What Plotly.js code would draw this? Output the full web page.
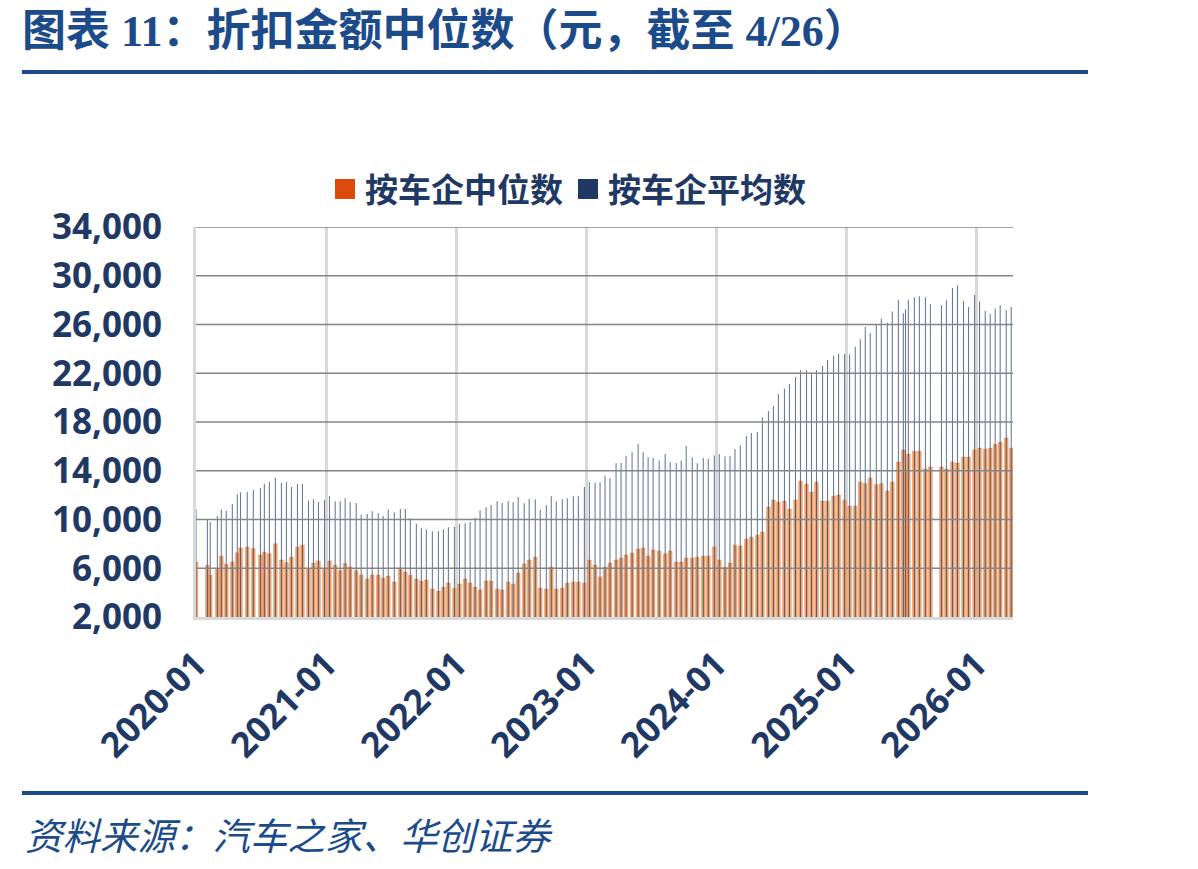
<!DOCTYPE html>
<html>
<head>
<meta charset="utf-8">
<script src="https://cdn.plot.ly/plotly-3.0.1.min.js"></script>
<style>
html,body{margin:0;padding:0;background:#fff;}
#chart{width:1198px;height:869px;}
</style>
</head>
<body>
<div id="chart"></div>
<script>
// ---- data ----
const dates = [
"2020-01-01","2020-02-02","2020-02-10","2020-03-01","2020-03-12","2020-03-26","2020-04-12","2020-04-26",
"2020-05-05","2020-05-24","2020-06-10","2020-06-30","2020-07-11","2020-07-25","2020-08-11","2020-08-28",
"2020-09-11","2020-09-25","2020-10-12","2020-10-26","2020-11-12","2020-11-26","2020-12-10","2020-12-27",
"2021-01-10","2021-01-26","2021-02-09","2021-02-23","2021-03-09","2021-03-26","2021-04-09","2021-04-26",
"2021-05-10","2021-05-27","2021-06-10","2021-06-24","2021-07-11","2021-07-28","2021-08-11","2021-08-25",
"2021-09-11","2021-09-25","2021-10-09","2021-10-26","2021-11-12","2021-11-26","2021-12-10","2021-12-27",
"2022-01-10","2022-01-26","2022-02-09","2022-02-23","2022-03-09","2022-03-26","2022-04-09","2022-04-26",
"2022-05-10","2022-05-27","2022-06-10","2022-06-24","2022-07-11","2022-07-25","2022-08-11","2022-08-25",
"2022-09-11","2022-09-25","2022-10-09","2022-10-26","2022-11-09","2022-11-26","2022-12-10","2022-12-27",
"2023-01-10","2023-01-26","2023-02-09","2023-02-23","2023-03-09","2023-03-26","2023-04-09","2023-04-23",
"2023-05-10","2023-05-27","2023-06-10","2023-06-24","2023-07-08","2023-07-25","2023-08-11","2023-08-25",
"2023-09-11","2023-09-25","2023-10-09","2023-10-26","2023-11-09","2023-11-26","2023-12-10","2023-12-27",
"2024-01-10","2024-01-26","2024-02-09","2024-02-23","2024-03-09","2024-03-26","2024-04-09","2024-04-26",
"2024-05-10","2024-05-27","2024-06-10","2024-06-24","2024-07-11","2024-07-25","2024-08-11","2024-08-25",
"2024-09-11","2024-09-25","2024-10-09","2024-10-26","2024-11-09","2024-11-26","2024-12-10","2024-12-27",
"2025-01-10","2025-01-26","2025-02-09","2025-02-23","2025-03-09","2025-03-26","2025-04-09","2025-04-26",
"2025-05-10","2025-05-27","2025-06-10","2025-06-16","2025-06-24","2025-07-11","2025-07-25","2025-08-11",
"2025-08-25","2025-09-25","2025-10-09","2025-10-26","2025-11-09","2025-11-26","2025-12-10","2025-12-27",
"2026-01-10","2026-01-26","2026-02-09","2026-02-23","2026-03-09","2026-03-26","2026-04-09"
];

// 按车企中位数 (median, yuan)
const medianVals = [
6520,6250,5430,5920,6990,6330,6520,7260,
7670,7740,7630,7085,7330,7190,8010,6680,
6460,6920,7740,7900,5990,6430,6600,5990,
6600,6270,5800,6400,6100,5800,5450,5120,
5450,5450,5200,5360,4870,6020,5690,5420,
5120,4950,5040,4300,4130,4460,4790,4350,
4710,5120,4790,4460,4220,4950,4950,4300,
4220,4870,4710,5610,6350,6680,6920,4380,
4300,6100,4300,4380,4790,4870,4870,4790,
6680,6270,5280,6100,6430,6680,6840,7090,
7250,7580,7660,7000,7500,7410,7190,7410,
6510,6510,6840,6840,6920,7000,7000,7740,
6680,6100,6430,7900,7820,8400,8560,8720,
8970,11020,11600,11430,11510,10860,11600,13150,
12910,12250,13070,11510,11510,11920,12010,11600,
11100,11100,13070,12960,13400,12880,12960,12340,
13070,14710,15700,14060,15370,15600,15600,14140,
14300,14300,14140,14710,14630,15120,15120,15700,
15860,15780,15860,16160,16350,16680,15860
];

// 按车企平均数 (mean, yuan)
const meanVals = [
10860,9960,9800,10290,10830,10700,11270,12080,
12230,12260,12450,12580,12910,13100,13430,12990,
13080,12670,12910,12910,11550,11660,11440,11630,
11900,11490,11520,11740,11440,11350,10400,10450,
10670,10530,10290,10830,10590,10860,10860,10100,
9660,9280,9190,9030,9030,9190,9360,9410,
9630,9690,9800,10120,10750,11000,11190,11520,
11350,11520,11410,11850,11330,11680,11660,10810,
11190,11900,11490,11660,11740,11900,11900,12670,
13080,12990,13050,13620,13380,14610,14630,15210,
15510,16190,15510,15100,15040,14850,15370,14720,
14630,14830,16030,15100,14610,15040,14990,15260,
15370,15180,15180,15780,16080,16850,17090,17180,
18380,18900,19310,20290,20730,21120,21690,22240,
22240,22020,22240,22590,23080,23440,23580,23580,
23560,24180,24780,25790,25300,25960,26500,26150,
27060,28040,26920,27250,28040,28230,28310,28230,
27680,27570,27980,28990,29210,27920,27430,28420,
27900,27100,26860,27320,27570,27160,27430
];

const seriesNames = ["按车企中位数", "按车企平均数"];
const yTickVals = [2000, 6000, 10000, 14000, 18000, 22000, 26000, 30000, 34000];

// ---- styling ----
const NAVY = "#1F3864";
const TITLE_BLUE = "#1B4B8A";
const DAY = 86400000;

const traces = [
  {
    type: "bar", name: seriesNames[0], x: dates, y: medianVals,
    width: 10.5 * DAY, showlegend: false,
    marker: { color: "#F2A671", line: { color: "rgba(226,112,40,0.55)", width: 0.6 } },
    hoverinfo: "x+y"
  },
  {
    type: "bar", name: seriesNames[1], x: dates, y: meanVals,
    width: 3.0 * DAY, showlegend: false,
    marker: { color: "rgba(31,56,100,0.68)", line: { width: 0 } },
    hoverinfo: "x+y"
  },
  // legend entries
  {
    type: "scatter", mode: "markers", name: seriesNames[0], x: [null], y: [null],
    marker: { symbol: "square", size: 16, color: "#DC4A0C", line: { color: "#DC4A0C", width: 4 } }
  },
  {
    type: "scatter", mode: "markers", name: seriesNames[1], x: [null], y: [null],
    marker: { symbol: "square", size: 16, color: NAVY, line: { color: NAVY, width: 4 } }
  }
];

// pixel helpers for decorations (paper coords relative to plot 196..1013, 227..617)
const PL = 196, PR = 1013, PT = 227, PB = 617;
const px = v => (v - PL) / (PR - PL);
const py = v => (PB - v) / (PB - PT);

const shapes = yTickVals.filter(v => v > yTickVals[0]).map(v => ({
  type: "line", xref: "paper", yref: "y", x0: 0, x1: 1, y0: v, y1: v,
  line: { color: "#858585", width: 1.7 }, layer: "above"
}));
shapes.push(
  { type: "line", xref: "paper", yref: "paper", x0: px(22), x1: px(1088), y0: py(72), y1: py(72),
    line: { color: TITLE_BLUE, width: 4 } },
  { type: "line", xref: "paper", yref: "paper", x0: px(22), x1: px(1088), y0: py(793), y1: py(793),
    line: { color: TITLE_BLUE, width: 4 } }
);

const layout = {
  width: 1198, height: 869,
  paper_bgcolor: "#ffffff", plot_bgcolor: "#ffffff",
  margin: { l: PL, r: 1198 - PR, t: PT, b: 869 - PB, pad: 0 },
  barmode: "overlay",
  title: {
    text: "图表 11：折扣金额中位数（元，截至 4/26）",
    xref: "container", yref: "container", x: 22 / 1198, xanchor: "left",
    y: 1 - 31 / 869, yanchor: "middle",
    font: { family: "Liberation Serif, 'Noto Sans CJK SC'", size: 44, weight: "bold", color: TITLE_BLUE }
  },
  xaxis: {
    type: "date",
    range: ["2020-01-01", "2026-04-14"],
    tick0: "2020-01-01", dtick: "M12", tickformat: "%Y-%m",
    tickangle: -45,
    showgrid: true, gridcolor: "#D9D9D9", gridwidth: 3,
    showline: true, linecolor: "#D9D9D9", linewidth: 3,
    ticks: "", zeroline: false,
    tickfont: { family: "'Open Sans', 'Noto Sans'", size: 35, weight: "bold", color: NAVY },
    ticklabelstandoff: 10,
    fixedrange: true
  },
  yaxis: {
    range: [2000, 34000],
    tickvals: yTickVals, tickformat: ",d",
    showgrid: false, zeroline: false,
    showline: true, linecolor: "#D9D9D9", linewidth: 3,
    ticks: "",
    tickfont: { family: "'Open Sans', 'Noto Sans'", size: 35, weight: "bold", color: NAVY },
    ticklabelstandoff: 24,
    fixedrange: true
  },
  legend: {
    orientation: "h", xref: "paper", yref: "paper",
    x: px(568), xanchor: "center", y: py(189), yanchor: "middle",
    font: { family: "'Noto Sans CJK SC'", size: 33, weight: "bold", color: NAVY },
    itemwidth: 30, tracegroupgap: 0, bgcolor: "rgba(0,0,0,0)"
  },
  annotations: [
    {
      text: "<i>资料来源：汽车之家、华创证券</i>",
      xref: "paper", yref: "paper", x: px(23), xanchor: "left", y: py(833), yanchor: "middle",
      showarrow: false,
      font: { family: "'Noto Sans CJK SC'", size: 37.5, color: TITLE_BLUE }
    }
  ],
  shapes: shapes,
  showlegend: true
};

Plotly.newPlot("chart", traces, layout, { displayModeBar: false, staticPlot: true });
</script>
</body>
</html>
